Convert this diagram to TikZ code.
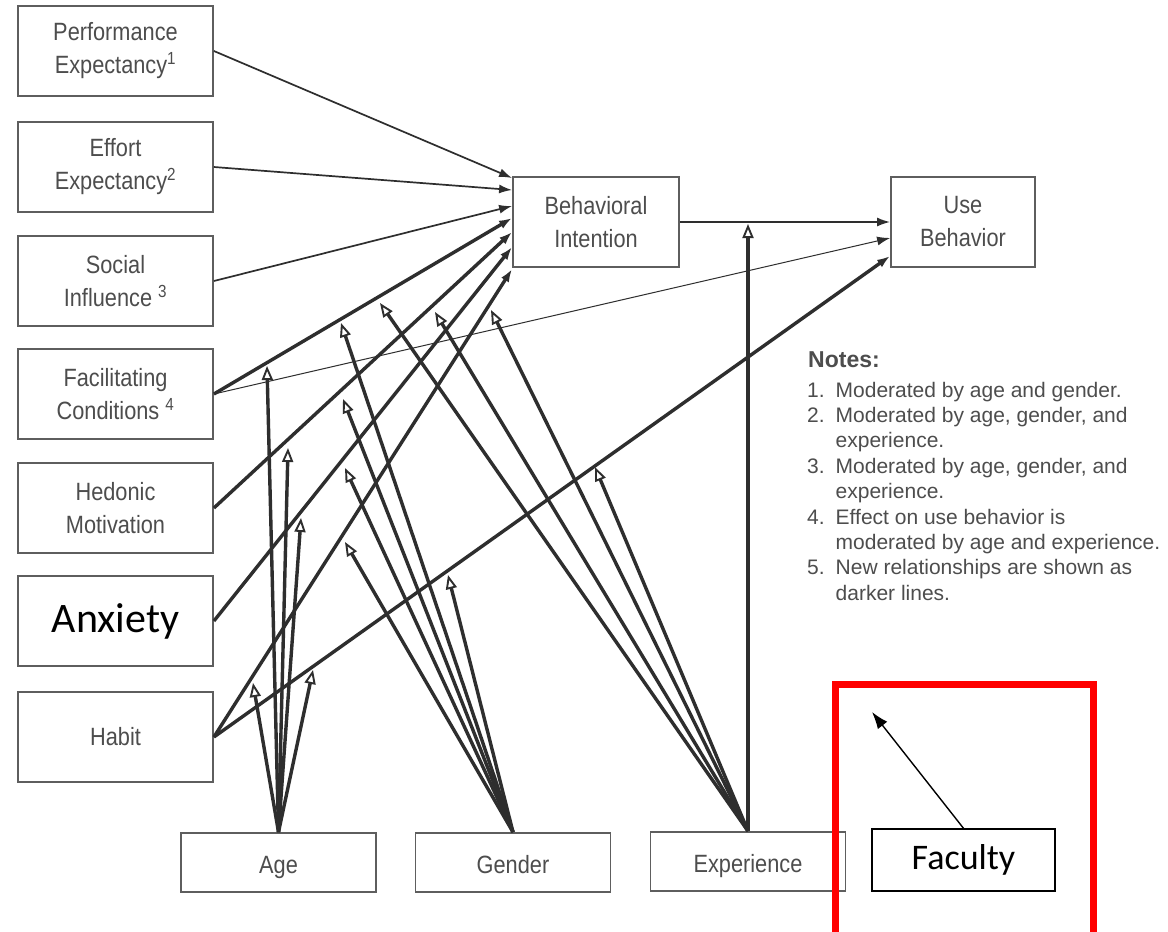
\documentclass[tikz,border=0pt]{standalone}
\usepackage{fontspec}
\setmainfont[FakeStretch=0.87]{Liberation Sans}
\newfontfamily\notesfont{Liberation Sans}
\newfontfamily\calfont{Carlito}
\usepackage{tikz}
\usetikzlibrary{calc}
\usetikzlibrary{arrows.meta}
\definecolor{txtgray}{HTML}{4D4D4D}
\definecolor{boxgray}{HTML}{5E5E5E}
\definecolor{lngray}{HTML}{2E2E2E}
\tikzset{>=latex,
  construct/.style={draw=boxgray, line width=1.8pt, minimum width=195pt,
    minimum height=90pt, inner sep=0pt, align=center, text=txtgray,
    font=\fontsize{25}{33}\selectfont},
  moderator/.style={construct, minimum height=59pt, text height=21pt, text depth=0pt},
  oldrel/.style={draw=lngray, line width=1.7pt, -{Latex[length=13pt,width=9pt]}},
  newrel/.style={oldrel, line width=3.4pt},
  modrel/.style={draw=lngray, line width=3.4pt,
    -{Triangle[open,length=14pt,width=11pt,line width=1.9pt]}},
  addbox/.style={draw=black, line width=1.4pt, inner sep=0pt, text=black}
}

\begin{document}
\begin{tikzpicture}[x=1pt,y=-1pt]
      \useasboundingbox (0,0) rectangle (1168,932);
      \fill[white] (0,0) rectangle (1168,932);

      % constructs
      \node[construct] (pe) at (115.5,51) {Performance\\Expectancy\textsuperscript{1}};
      \node[construct] (ee) at (115.5,167) {Effort\\Expectancy\textsuperscript{2}};
      \node[construct] (si) at (115.5,281) {Social\\Influence \textsuperscript{3}};
      \node[construct] (fc) at (115.5,394) {Facilitating\\Conditions \textsuperscript{4}};
      \node[construct] (hm) at (115.5,508) {Hedonic\\Motivation};
      \node[construct, text=black, font=\calfont\fontsize{42}{48}\selectfont]
        (anx) at (115.5,621) {Anxiety};
      \node[construct] (hab) at (115.5,737) {Habit};

      \node[construct, minimum width=166pt] (bi) at (596,222) {Behavioral\\Intention};
      \node[construct, minimum width=144pt] (ub) at (963,222) {Use\\Behavior};

      \node[moderator] (age) at (278.5,862.5) {Age};
      \node[moderator] (gen) at (513,862.5) {Gender};
      \node[moderator] (exp) at (748,861.5) {Experience};

      % arrow ends on the target boxes
      \coordinate (bi-pe) at ($(bi.west)+(0,-44)$);
      \coordinate (bi-ee) at ($(bi.west)+(0,-32)$);
      \coordinate (bi-si) at ($(bi.west)+(0,-16)$);
      \coordinate (bi-fc) at ($(bi.west)+(0,-4)$);
      \coordinate (bi-hm) at ($(bi.west)+(0,10)$);
      \coordinate (bi-anx) at ($(bi.west)+(0,25)$);
      \coordinate (bi-hab) at ($(bi.west)+(0,47)$);
      \coordinate (ub-fc) at ($(ub.west)+(0,16)$);
      \coordinate (ub-hab) at ($(ub.west)+(0,34)$);

      \draw[oldrel] (pe.east) -- (bi-pe);
      \draw[oldrel] (ee.east) -- (bi-ee);
      \draw[oldrel] (si.east) -- (bi-si);
      \draw[newrel] (fc.east) -- (bi-fc);
      \draw[oldrel, line width=1pt] (fc.east) -- (ub-fc);
      \draw[newrel] (hm.east) -- (bi-hm);
      \draw[newrel] (anx.east) -- (bi-anx);
      \draw[newrel] (hab.east) -- (bi-hab);
      \draw[newrel] (hab.east) -- (ub-hab);
      \draw[oldrel] (bi.east) -- (ub.west);

      % moderator tips
      \coordinate (a1) at (267,366);
      \coordinate (a2) at (288,448);
      \coordinate (a3) at (301,518);
      \coordinate (a4) at (253,683);
      \coordinate (a5) at (313,670);

      \coordinate (g1) at (341,323);
      \coordinate (g2) at (343,399);
      \coordinate (g3) at (345,468);
      \coordinate (g4) at (345,542);
      \coordinate (g5) at (448,575);

      \coordinate (e1) at (380,303);
      \coordinate (e2) at (435,312);
      \coordinate (e3) at (491,310);
      \coordinate (e4) at (595,467);
      \coordinate (e5) at (748,224);

      \draw[modrel] (age.north) -- (a1);
      \draw[modrel] (age.north) -- (a2);
      \draw[modrel] (age.north) -- (a3);
      \draw[modrel] (age.north) -- (a4);
      \draw[modrel] (age.north) -- (a5);

      \draw[modrel] (gen.north) -- (g1);
      \draw[modrel] (gen.north) -- (g2);
      \draw[modrel] (gen.north) -- (g3);
      \draw[modrel] (gen.north) -- (g4);
      \draw[modrel] (gen.north) -- (g5);

      \draw[modrel] (exp.north) -- (e1);
      \draw[modrel] (exp.north) -- (e2);
      \draw[modrel] (exp.north) -- (e3);
      \draw[modrel] (exp.north) -- (e4);
      \draw[modrel] (exp.north) -- (e5);

      % notes
      \node[anchor=base west, inner sep=0pt, text=txtgray,
        font=\notesfont\bfseries\fontsize{23}{26}\selectfont] (notes) at (808,367) {Notes:};
      \node[anchor=base west, inner sep=0pt, text=txtgray,
        font=\notesfont\fontsize{21}{25.4}\selectfont] (notelist) at (807,397)
        {\begin{tabular}[t]{@{}l@{\hspace{11pt}}l@{}}
          1. & Moderated by age and gender.\\
          2. & Moderated by age, gender, and\\
             & experience.\\
          3. & Moderated by age, gender, and\\
             & experience.\\
          4. & Effect on use behavior is\\
             & moderated by age and experience.\\
          5. & New relationships are shown as\\
             & darker lines.
        \end{tabular}};

      % added construct
      \node[addbox, minimum width=183pt, minimum height=62pt,
        font=\calfont\fontsize{36}{40}\selectfont] (fac) at (963.5,860) {Faculty};
      \coordinate (fac-tip) at (872,712);
      \draw[black, line width=1.4pt, -{Latex[length=17pt,width=12pt]}] (fac.north) -- (fac-tip);

      \draw[red, line width=7pt] (835.5,945) -- (835.5,684.5) -- (1093.5,684.5) -- (1093.5,945);
  \end{tikzpicture}
\end{document}
